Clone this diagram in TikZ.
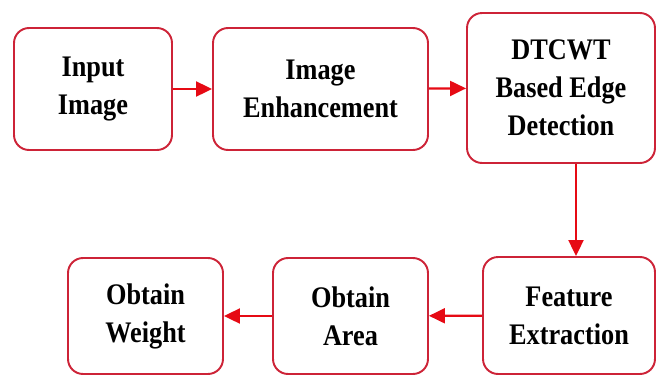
\documentclass[tikz,border=0pt]{standalone}
\usepackage{fontspec}
\setmainfont{Liberation Serif}
\newfontfamily\boxfont[FakeStretch=0.88]{Liberation Serif}
\usepackage{tikz}
\usetikzlibrary{positioning, arrows.meta}
\definecolor{boxred}{RGB}{205,35,55}
\definecolor{arrred}{RGB}{230,10,20}
\tikzset{
  >={Triangle[length=3.2mm, width=3mm]},
  block/.style={draw=boxred, line width=1.1pt, rounded corners=0.3cm,
    align=center, inner sep=0pt,
    font=\boxfont\bfseries\fontsize{17}{21.6}\selectfont},
  flow/.style={->, draw=arrred, line width=1.2pt},
}

\begin{document}
\begin{tikzpicture}[x=0.02cm, y=-0.02cm]
  \useasboundingbox (0,0) rectangle (656,376);

  % blocks
  \node[block, minimum width=3.16cm, minimum height=2.44cm] (inp) at (93,89) {Input\\Image};
  \node[block, minimum width=4.3cm, minimum height=2.44cm] (enh) at (320.5,89) {Image\\Enhancement};
  \node[block, minimum width=3.76cm, minimum height=3cm] (dtc) at (561,88) {DTCWT\\Based Edge\\Detection};
  \node[block, minimum width=3.44cm, minimum height=2.34cm] (fea) at (569,315.5) {Feature\\Extraction};
  \node[block, minimum width=3.1cm, minimum height=2.32cm] (are) at (350.5,316) {Obtain\\Area};
  \node[block, minimum width=3.1cm, minimum height=2.32cm] (wei) at (145.5,316) {Obtain\\Weight};

  % arrows
  \draw[flow] (inp) -- (enh);
  \draw[flow] (enh) -- (dtc);
  \draw[flow] ([xshift=0.3cm]dtc.south) -- ([xshift=0.3cm]dtc.south |- fea.north);
  \draw[flow] (fea) -- (are);
  \draw[flow] (are) -- (wei);
\end{tikzpicture}
\end{document}
